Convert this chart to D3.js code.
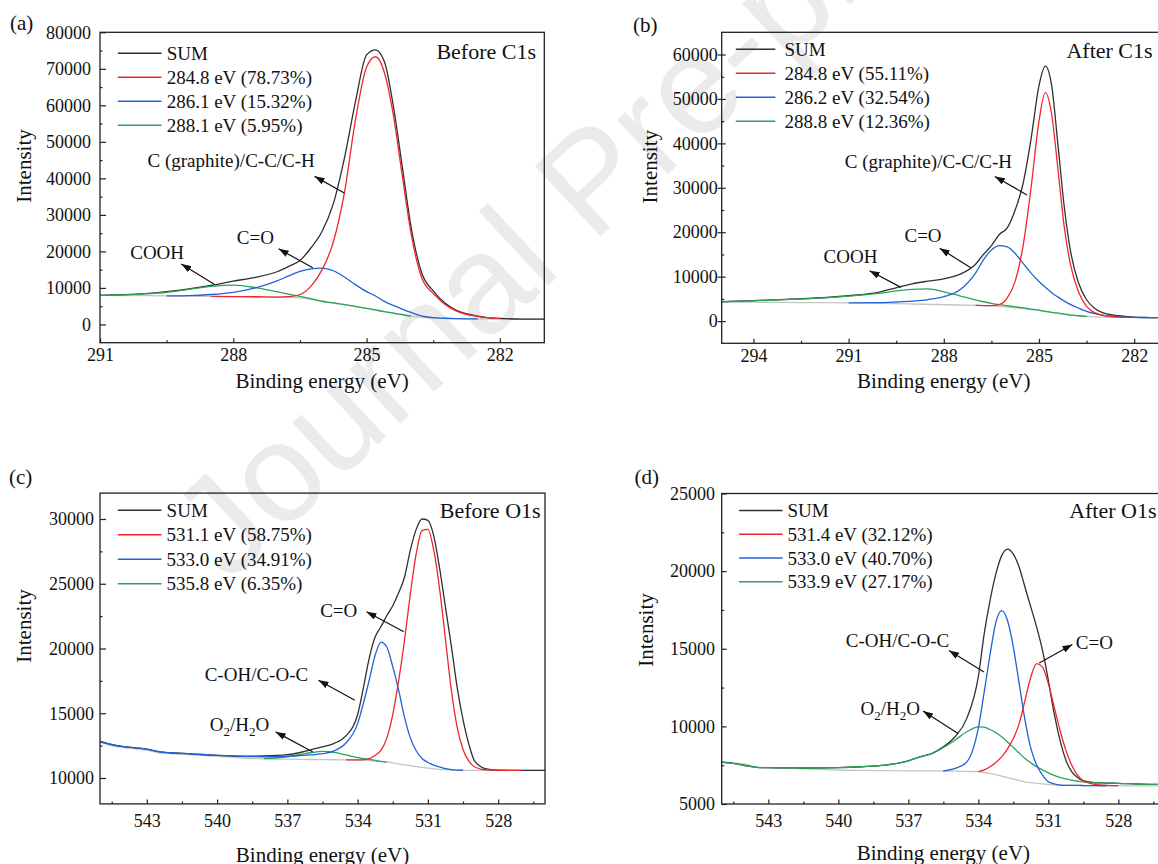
<!DOCTYPE html>
<html>
<head>
<meta charset="utf-8">
<title>XPS C1s / O1s before and after</title>
<script src="https://cdn.jsdelivr.net/npm/d3@7"></script>
<style>
  html, body { margin: 0; padding: 0; background: #fff; }
  svg { display: block; }
  svg text { font-family: "Liberation Serif", "Times New Roman", Times, "DejaVu Serif", serif; }
  svg text.wm { font-family: "Liberation Sans", Arial, "DejaVu Sans", sans-serif; }
</style>
</head>
<body>
<svg id="chart" width="1158" height="864"></svg>
<script>
// ---------- (a) Before C1s ----------
const energyA = [291, 290.5, 290, 289.5, 289, 288.5, 288, 287.5, 287, 286.75, 286.5, 286.25, 286, 285.75, 285.5, 285.25, 285, 284.8, 284.6, 284.4, 284.2, 284, 283.75, 283.5, 283.25, 283, 282.5, 282, 281.5, 281];
const bgA    = [7950, 7920, 7880, 7830, 7760, 7700, 7640, 7580, 7500, 7420, 7300, 6900, 6250, 5850, 5400, 4900, 4400, 3950, 3500, 3100, 2700, 2250, 1950, 1750, 1650, 1580, 1520, 1480, 1460, 1450];
const sumA   = [7950, 8150, 8450, 9000, 9750, 10700, 11850, 12900, 14500, 15900, 17500, 21000, 25500, 33000, 45500, 61000, 73800, 75200, 72000, 60000, 43500, 26800, 13800, 9200, 6000, 4000, 2300, 1650, 1480, 1450];
const redA   = [null, null, null, null, null, 7700, 7640, 7580, 7500, 7600, 8200, 10500, 15000, 22500, 36000, 56000, 70500, 73300, 69000, 57500, 41000, 25000, 12500, 8500, 5600, 3800, 2200, 1600, null, null];
const blueA  = [null, null, null, 7830, 7900, 8200, 8800, 10000, 12000, 13300, 14500, 15200, 15400, 14700, 13000, 10900, 9000, 7800, 6300, 5200, 4200, 3300, 2300, 1850, 1700, 1600, 1520, null, null, null];
const greenA = [7950, 8100, 8350, 8800, 9600, 10400, 10750, 10100, 8900, 8300, 7700, 7050, 6350, 5900, 5420, 4920, 4420, 3970, 3520, 3120, 2720, 2260, null, null, null, null, null, null, null, null];
const legendA = ["SUM", "284.8 eV (78.73%)", "286.1 eV (15.32%)", "288.1 eV (5.95%)"];

// ---------- (b) After C1s ----------
const energyB = [295, 294, 293, 292, 291, 290, 289.5, 289, 288.5, 288, 287.5, 287, 286.75, 286.5, 286.25, 286, 285.75, 285.5, 285.25, 285, 284.8, 284.6, 284.4, 284.2, 284, 283.75, 283.5, 283.25, 283, 282.5, 282, 281.5, 281];
const bgB    = [4300, 4250, 4200, 4150, 4100, 4000, 3920, 3850, 3780, 3700, 3620, 3550, 3500, 3450, 3300, 3150, 3000, 2800, 2600, 2400, 2150, 1950, 1750, 1550, 1350, 1200, 1050, 950, 900, 850, 800, 790, 780];
const sumB   = [4400, 4600, 4900, 5200, 5700, 6600, 7500, 8400, 9000, 9500, 10500, 12800, 15000, 17000, 19500, 21000, 25000, 31000, 41000, 53000, 57400, 53000, 39500, 25500, 15500, 8500, 4800, 2900, 1900, 1200, 900, 800, 780];
const redB   = [null, null, null, null, null, null, null, null, null, null, null, 3550, 3500, 3460, 3700, 5200, 9000, 17000, 30000, 45000, 51400, 46500, 34000, 21000, 12500, 6500, 3300, 1900, 1300, 900, 820, null, null];
const blueB  = [null, null, null, null, 4100, 4150, 4300, 4500, 4850, 5500, 7000, 10800, 13800, 16000, 17000, 16700, 15200, 13000, 10800, 8900, 7600, 6400, 5400, 4500, 3700, 2900, 2200, 1700, 1350, 1000, 850, 800, 780];
const greenB = [4350, 4550, 4850, 5150, 5600, 6300, 6800, 7150, 7250, 6600, 5700, 4750, 4350, 4000, 3700, 3450, 3200, 2950, 2700, 2450, 2200, 1980, 1770, 1560, 1360, 1200, 1060, null, null, null, null, null, null];
const legendB = ["SUM", "284.8 eV (55.11%)", "286.2 eV (32.54%)", "288.8 eV (12.36%)"];

// ---------- (c) Before O1s ----------
const energyC = [545, 544.5, 544, 543.5, 543, 542.5, 542, 541.5, 541, 540, 539, 538, 537, 536.5, 536, 535.5, 535, 534.5, 534, 533.75, 533.5, 533.25, 533, 532.75, 532.5, 532.25, 532, 531.75, 531.5, 531.25, 531, 530.75, 530.5, 530.25, 530, 529.75, 529.5, 529.25, 529, 528.5, 528, 527, 526];
const bgC    = [12750, 12500, 12350, 12250, 12150, 11950, 11880, 11830, 11780, 11680, 11560, 11480, 11450, 11440, 11430, 11420, 11410, 11400, 11380, 11360, 11340, 11310, 11270, 11220, 11160, 11090, 11020, 10950, 10880, 10820, 10760, 10710, 10670, 10640, 10620, 10610, 10600, 10590, 10590, 10590, 10590, 10590, 10590];
const sumC   = [12820, 12580, 12420, 12330, 12230, 12030, 11950, 11900, 11850, 11750, 11680, 11700, 11800, 11950, 12180, 12400, 12680, 13250, 14900, 17000, 19300, 20900, 21700, 22550, 23300, 24300, 25500, 27600, 29200, 30000, 29900, 28700, 26200, 23200, 20200, 17000, 14500, 12600, 11300, 10700, 10600, 10590, 10590];
const redC   = [null, null, null, null, null, null, null, null, null, null, null, null, null, null, null, null, null, 11400, 11400, 11420, 11500, 11750, 12150, 13100, 14900, 17500, 20600, 24200, 27300, 29100, 29200, 27600, 24600, 20700, 16800, 13900, 12200, 11300, 10850, 10620, 10590, 10590, null];
const blueC  = [12820, 12580, 12420, 12330, 12230, 12030, 11950, 11900, 11850, 11750, 11670, 11640, 11680, 11720, 11780, 11880, 12100, 12700, 14200, 15800, 17600, 19500, 20500, 20100, 18600, 16800, 14700, 13100, 12100, 11500, 11200, 11000, 10850, 10720, 10640, 10610, 10600, null, null, null, null, null, null];
const greenC = [null, null, null, null, null, null, null, null, null, null, null, 11500, 11640, 11800, 11950, 12050, 11980, 11780, 11580, 11500, 11440, 11360, 11290, 11230, null, null, null, null, null, null, null, null, null, null, null, null, null, null, null, null, null, null, null];
const legendC = ["SUM", "531.1 eV (58.75%)", "533.0 eV (34.91%)", "535.8 eV (6.35%)"];

// ---------- (d) After O1s ----------
const energyD = energyC;
const bgD    = [7720, 7650, 7560, 7380, 7330, 7310, 7290, 7270, 7250, 7190, 7160, 7150, 7140, 7135, 7130, 7125, 7120, 7100, 7080, 7030, 6970, 6890, 6800, 6700, 6610, 6520, 6430, 6380, 6330, 6290, 6260, 6240, 6220, 6210, 6200, 6195, 6190, 6185, 6180, 6175, 6170, 6170, 6170];
const sumD   = [7700, 7610, 7480, 7360, 7340, 7330, 7330, 7320, 7320, 7340, 7400, 7500, 7780, 8040, 8250, 8680, 9330, 10500, 13200, 15960, 18100, 19820, 21000, 21420, 21100, 20250, 18960, 17680, 16390, 14890, 12970, 10830, 9110, 7830, 7080, 6710, 6500, 6420, 6370, 6350, 6330, 6280, 6260];
const redD   = [null, null, null, null, null, null, null, null, null, null, null, null, null, null, null, null, null, null, 7080, 7200, 7400, 7680, 8040, 8550, 9220, 10180, 11680, 13180, 14040, 13820, 12750, 11250, 9750, 8470, 7510, 6860, 6500, 6350, 6260, 6200, 6180, null, null];
const blueD  = [null, null, null, null, null, null, null, null, null, null, null, null, null, null, null, 7125, 7290, 7700, 9900, 12200, 14600, 16700, 17460, 16820, 15110, 12750, 10400, 8580, 7510, 6860, 6430, 6300, 6220, 6200, 6200, 6195, 6190, 6185, 6180, 6175, null, null, null];
const greenD = [7700, 7610, 7480, 7360, 7340, 7330, 7330, 7320, 7320, 7340, 7400, 7500, 7780, 8040, 8250, 8640, 9110, 9650, 9970, 9950, 9800, 9600, 9330, 9000, 8640, 8280, 7930, 7650, 7400, 7200, 7010, 6850, 6710, 6620, 6540, 6480, 6430, 6400, 6370, 6350, 6330, 6280, 6260];
const legendD = ["SUM", "531.4 eV (32.12%)", "533.0 eV (40.70%)", "533.9 eV (27.17%)"];

// ---------- ticks ----------
const xTicksC1sA = [291, 288, 285, 282];
const xTicksC1sB = [294, 291, 288, 285, 282];
const xTicksO1s  = [543, 540, 537, 534, 531, 528];
const yTicksA = [0, 10000, 20000, 30000, 40000, 50000, 60000, 70000, 80000];
const yTicksB = [0, 10000, 20000, 30000, 40000, 50000, 60000];
const yTicksC = [10000, 15000, 20000, 25000, 30000];
const yTicksD = [5000, 10000, 15000, 20000, 25000];

const colors = { sum: "#303030", bg: "#c4c4c4", red: "#f0262b", blue: "#1f62dc", green: "#29a35a" };

const svg = d3.select("#chart");
const defs = svg.append("defs");
defs.append("marker")
  .attr("id", "arrowhead")
  .attr("viewBox", "0 0 10 7")
  .attr("refX", 10).attr("refY", 3.5)
  .attr("markerWidth", 10).attr("markerHeight", 7)
  .attr("markerUnits", "userSpaceOnUse")
  .attr("orient", "auto")
  .append("path").attr("d", "M0,0L10,3.5L0,7Z").attr("fill", "#111");

// watermark, behind the plots
svg.append("text")
  .attr("class", "wm")
  .attr("transform", "translate(228,584) rotate(-43)")
  .attr("font-size", 140)
  .attr("fill", "#ebebeb")
  .text("Journal Pre-proof");

const panels = [
  {
    tag: "(a)", tagX: 10, tagY: 30, title: "Before C1s", titleX: 536, titleY: 51.6,
    left: 100, right: 544.3, top: 32.3, bottom: 342.7,
    xDomain: [291, 281], yDomain: [-5000, 80000],
    xTicks: xTicksC1sA, xMinor: [289.5, 286.5, 283.5], yTicks: yTicksA,
    yMinor: d3.range(5000, 80000, 10000),
    yTickIn: 6, yTickOut: 0, yPad: 9, xPad: 5.7,
    xTitleY: 388, yTitleX: 31, yTitleY: 166,
    energy: energyA, bg: bgA, sum: sumA, red: redA, blue: blueA, green: greenA, legend: legendA,
    leg: { x0: 117.8, x1: 161.5, tx: 166.7, y0: 53.3, dy: 24 },
    notes: [
      { text: "C (graphite)/C-C/C-H", x: 289.93, y: 43000, tail: [285.5, 36000], head: [286.17, 40550] },
      { text: "C=O", x: 287.92, y: 21900, tail: [286.21, 15500], head: [286.98, 20700] },
      { text: "COOH", x: 290.32, y: 17950, tail: [288.42, 10930], head: [289.17, 16580] }
    ]
  },
  {
    tag: "(b)", tagX: 633, tagY: 32, title: "After C1s", titleX: 1152.6, titleY: 50,
    left: 721.7, right: 1165.9, top: 32.3, bottom: 343.3,
    xDomain: [295, 281], yDomain: [-5000, 65000],
    xTicks: xTicksC1sB, xMinor: [292.5, 289.5, 286.5, 283.5], yTicks: yTicksB,
    yMinor: d3.range(5000, 65000, 10000),
    yTickIn: 4, yTickOut: 4, yPad: 0, xPad: 5.7,
    xTitleY: 388, yTitleX: 657, yTitleY: 166.7,
    energy: energyB, bg: bgB, sum: sumB, red: redB, blue: blueB, green: greenB, legend: legendB,
    leg: { x0: 735.8, x1: 775.3, tx: 784.5, y0: 49.3, dy: 24 },
    notes: [
      { text: "C (graphite)/C-C/C-H", x: 291.12, y: 34400, tail: [285.38, 28400], head: [286.39, 32560] },
      { text: "C=O", x: 289.24, y: 17900, tail: [287.15, 12030], head: [288.13, 16390] },
      { text: "COOH", x: 291.79, y: 13000, tail: [289.35, 7590], head: [290.34, 11350] }
    ]
  },
  {
    tag: "(c)", tagX: 9, tagY: 484, title: "Before O1s", titleX: 540.6, titleY: 510,
    left: 100, right: 545, top: 493.1, bottom: 803.9,
    xDomain: [545, 526], yDomain: [8000, 32000],
    xTicks: xTicksO1s, xMinor: [544.5, 541.5, 538.5, 535.5, 532.5, 529.5, 526.5], yTicks: yTicksC,
    yMinor: [12500, 17500, 22500, 27500],
    yTickIn: 6, yTickOut: 0, yPad: 6, xPad: 10.2,
    xTitleY: 862, yTitleX: 31, yTitleY: 626,
    energy: energyC, bg: bgC, sum: sumC, red: redC, blue: blueC, green: greenC, legend: legendC,
    leg: { x0: 117.8, x1: 161.5, tx: 166.6, y0: 510.2, dy: 24.5 },
    notes: [
      { text: "C=O", x: 535.6, y: 22450, tail: [532.03, 21290], head: [533.62, 22840] },
      { text: "C-OH/C-O-C", x: 540.53, y: 17470, tail: [534.12, 16000], head: [535.67, 17550] },
      { sub: true, x: 540.31, y: 13630, tail: [535.91, 12010], head: [537.5, 13560] }
    ]
  },
  {
    tag: "(d)", tagX: 634.5, tagY: 484, title: "After O1s", titleX: 1156.5, titleY: 510,
    left: 721.7, right: 1165, top: 493.5, bottom: 804,
    xDomain: [545, 526], yDomain: [5000, 25000],
    xTicks: xTicksO1s, xMinor: [544.5, 541.5, 538.5, 535.5, 532.5, 529.5, 526.5], yTicks: yTicksD,
    yMinor: [7500, 12500, 17500, 22500],
    yTickIn: 5, yTickOut: 0, yPad: 6.7, xPad: 10.2,
    xTitleY: 860, yTitleX: 653, yTitleY: 630,
    energy: energyD, bg: bgD, sum: sumD, red: redD, blue: blueD, green: greenD, legend: legendD,
    leg: { x0: 739.1, x1: 782.6, tx: 787.4, y0: 510.6, dy: 23.7 },
    notes: [
      { text: "C-OH/C-O-C", x: 539.68, y: 15110, tail: [533.76, 13500], head: [535.26, 14890] },
      { text: "C=O", x: 529.82, y: 14960, tail: [531.39, 14080], head: [529.97, 15280] },
      { sub: true, x: 539.05, y: 10760, tail: [534.87, 9540], head: [536.37, 10990] }
    ]
  }
];

function drawPanel(p, i) {
  const x = d3.scaleLinear().domain(p.xDomain).range([p.left, p.right]);
  const y = d3.scaleLinear().domain(p.yDomain).range([p.bottom, p.top]);
  const g = svg.append("g");

  defs.append("clipPath").attr("id", "clip" + i)
    .append("rect")
    .attr("x", p.left).attr("y", p.top)
    .attr("width", p.right - p.left).attr("height", p.bottom - p.top);

  const plot = g.append("g").attr("clip-path", `url(#clip${i})`);
  const line = d3.line()
    .defined(d => d[1] != null)
    .x(d => x(d[0]))
    .y(d => y(d[1]))
    .curve(d3.curveMonotoneX);

  // order: background, sum, then the fitted components
  const series = [
    [p.bg, colors.bg], [p.sum, colors.sum],
    [p.green, colors.green], [p.blue, colors.blue], [p.red, colors.red]
  ];
  series.forEach(([vals, c]) => {
    plot.append("path")
      .datum(p.energy.map((e, k) => [e, vals[k]]))
      .attr("fill", "none")
      .attr("stroke", c)
      .attr("stroke-width", 1.3)
      .attr("stroke-linejoin", "round")
      .attr("d", line);
  });

  // frame
  g.append("rect")
    .attr("x", p.left).attr("y", p.top)
    .attr("width", p.right - p.left).attr("height", p.bottom - p.top)
    .attr("fill", "none").attr("stroke", "#222").attr("stroke-width", 1.3);

  // x axis
  const xAxis = g.append("g").attr("transform", `translate(0,${p.bottom})`)
    .call(d3.axisBottom(x).tickValues(p.xTicks).tickFormat(d3.format("d"))
      .tickSizeInner(-4.5).tickSizeOuter(0).tickPadding(p.xPad));
  g.append("g").attr("transform", `translate(0,${p.bottom})`)
    .call(d3.axisBottom(x).tickValues(p.xMinor).tickFormat("")
      .tickSizeInner(-2.5).tickSizeOuter(0));

  // y axis
  const yAxis = g.append("g").attr("transform", `translate(${p.left},0)`)
    .call(d3.axisLeft(y).tickValues(p.yTicks).tickFormat(d3.format("d"))
      .tickSizeInner(p.yTickOut > 0 ? p.yTickOut : -p.yTickIn).tickSizeOuter(0).tickPadding(p.yPad));
  if (p.yTickOut > 0) {
    g.append("g").attr("transform", `translate(${p.left},0)`)
      .call(d3.axisLeft(y).tickValues(p.yTicks).tickFormat("").tickSizeInner(-p.yTickIn).tickSizeOuter(0));
  }
  g.append("g").attr("transform", `translate(${p.left},0)`)
    .call(d3.axisLeft(y).tickValues(p.yMinor).tickFormat("").tickSizeInner(-2.5).tickSizeOuter(0));

  g.selectAll(".domain").remove();
  g.selectAll(".tick line").attr("stroke", "#222").attr("stroke-width", 1.2);
  g.selectAll("g").attr("font-family", null);
  [xAxis, yAxis].forEach(a => a.selectAll("text")
    .attr("font-size", 18).attr("fill", "#111"));

  // axis titles
  g.append("text")
    .attr("x", (p.left + p.right) / 2).attr("y", p.xTitleY)
    .attr("text-anchor", "middle").attr("font-size", 21).attr("fill", "#111")
    .text("Binding energy (eV)");
  g.append("text")
    .attr("transform", `translate(${p.yTitleX},${p.yTitleY}) rotate(-90)`)
    .attr("text-anchor", "middle").attr("font-size", 21).attr("fill", "#111")
    .text("Intensity");

  // panel tag and title
  g.append("text").attr("x", p.tagX).attr("y", p.tagY)
    .attr("font-size", 21).attr("fill", "#111").text(p.tag);
  g.append("text").attr("x", p.titleX).attr("y", p.titleY)
    .attr("dy", "0.35em").attr("text-anchor", "end")
    .attr("font-size", 22).attr("fill", "#111").text(p.title);

  // legend
  const legColors = [colors.sum, colors.red, colors.blue, colors.green];
  p.legend.forEach((label, k) => {
    const ly = p.leg.y0 + k * p.leg.dy;
    g.append("line")
      .attr("x1", p.leg.x0).attr("x2", p.leg.x1).attr("y1", ly).attr("y2", ly)
      .attr("stroke", legColors[k]).attr("stroke-width", 1.5);
    g.append("text")
      .attr("x", p.leg.tx).attr("y", ly).attr("dy", "0.35em")
      .attr("font-size", 19).attr("fill", "#111").text(label);
  });

  // annotations with arrows
  p.notes.forEach(n => {
    const t = g.append("text")
      .attr("x", x(n.x)).attr("y", y(n.y))
      .attr("font-size", 19).attr("fill", "#111");
    if (n.sub) {
      t.append("tspan").text("O");
      t.append("tspan").attr("dy", 5).attr("font-size", 13).text("2");
      t.append("tspan").attr("dy", -5).text("/H");
      t.append("tspan").attr("dy", 5).attr("font-size", 13).text("2");
      t.append("tspan").attr("dy", -5).text("O");
    } else {
      t.text(n.text);
    }
    g.append("line")
      .attr("x1", x(n.tail[0])).attr("y1", y(n.tail[1]))
      .attr("x2", x(n.head[0])).attr("y2", y(n.head[1]))
      .attr("stroke", "#111").attr("stroke-width", 1.2)
      .attr("marker-end", "url(#arrowhead)");
  });
}

panels.forEach(drawPanel);
</script>
</body>
</html>
